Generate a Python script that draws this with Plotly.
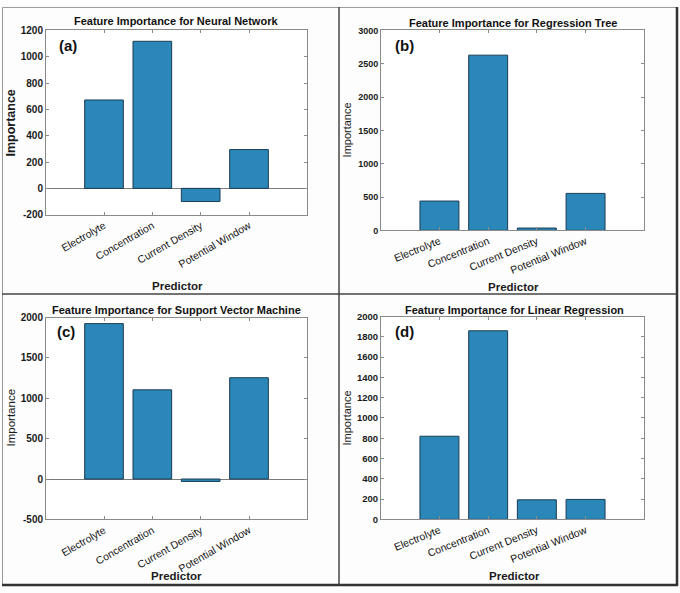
import plotly.graph_objects as go

W, H = 680, 593

predictors = ["Electrolyte", "Concentration", "Current Density", "Potential Window"]
nn_importance = [672, 1118, -100, 295]
tree_importance = [440, 2630, 35, 555]
svm_importance = [1925, 1105, -30, 1255]
lr_importance = [820, 1860, 193, 197]

titles = ["Feature Importance for Neural Network",
          "Feature Importance for Regression Tree",
          "Feature Importance for Support Vector Machine",
          "Feature Importance for Linear Regression"]
panel_tags = ["(a)", "(b)", "(c)", "(d)"]
nn_ticks = [-200, 0, 200, 400, 600, 800, 1000, 1200]
tree_ticks = [0, 500, 1000, 1500, 2000, 2500, 3000]
svm_ticks = [-500, 0, 500, 1000, 1500, 2000]
lr_ticks = [0, 200, 400, 600, 800, 1000, 1200, 1400, 1600, 1800, 2000]

series = [nn_importance, tree_importance, svm_importance, lr_importance]
y_ticks = [nn_ticks, tree_ticks, svm_ticks, lr_ticks]

# panel plot-area boxes in pixels: (left, right, top, bottom)
boxes = [(46, 307, 25, 213), (381, 644, 25, 229), (46, 307, 318, 524), (381, 644, 317, 524)]
tick_angles = [-30, -22, -30, -22]
ytick_sizes = [10, 9, 10, 9.5]
ylab_sizes = [12.5, 11, 11.5, 11]
ylab_bold = [True, False, False, False]
title_pos = [(176, 15), (513, 17), (176, 310), (514, 310)]
ylab_pos = [(11, 120), (347, 127), (11, 420), (347, 421)]
xlab_pos = [(177, 286), (513, 287), (176, 582), (514, 582)]
tag_pos = [(57, 40), (393, 40), (55, 332), (393, 332)]

FONT = "Liberation Sans, Arial, sans-serif"
BAR = "#2A87B8"

fig = go.Figure()
layout = dict(
    width=W, height=H, margin=dict(l=0, r=0, t=0, b=0),
    paper_bgcolor="#fdfdfd", plot_bgcolor="#ffffff",
    showlegend=False, font=dict(family=FONT, color="#222222"),
    bargap=0.2,
)
annotations = []
shapes = []

for i in range(4):
    sfx = "" if i == 0 else str(i + 1)
    xa, ya = "x" + sfx, "y" + sfx
    l, r, t, b = boxes[i]
    fig.add_trace(go.Bar(
        x=predictors, y=series[i], xaxis=xa, yaxis=ya, width=0.8,
        marker=dict(color=BAR, line=dict(color="#1b3d55", width=1)),
    ))
    layout["xaxis" + sfx] = dict(
        domain=[l / W, r / W], anchor=ya, type="category",
        range=[-1.2, 4.2], showline=True, linecolor="#8a8a8a", linewidth=1,
        mirror="ticks", ticks="inside", ticklen=3, tickcolor="#8a8a8a",
        tickangle=tick_angles[i], tickfont=dict(size=10.5, color="#111111"),
        showgrid=False, zeroline=False, fixedrange=True,
    )
    yt = y_ticks[i]
    layout["yaxis" + sfx] = dict(
        domain=[1 - b / H, 1 - t / H], anchor=xa,
        range=[yt[0], yt[-1]], tickmode="array", tickvals=yt,
        ticktext=["<b>%d</b>" % v for v in yt],
        showline=True, linecolor="#8a8a8a",
        linewidth=1, mirror="ticks", ticks="inside", ticklen=3, tickcolor="#8a8a8a",
        tickfont=dict(size=ytick_sizes[i], color="#1a1a1a"),
        showgrid=False, zeroline=True, zerolinecolor="#7a7a7a", zerolinewidth=1,
        fixedrange=True,
    )
    annotations.append(dict(text="<b>" + titles[i] + "</b>", x=title_pos[i][0] / W,
                            y=1 - title_pos[i][1] / H, xref="paper", yref="paper",
                            showarrow=False, xanchor="center", yanchor="middle",
                            font=dict(size=11, color="#111111")))
    ylab = "<b>Importance</b>" if ylab_bold[i] else "Importance"
    annotations.append(dict(text=ylab, x=ylab_pos[i][0] / W,
                            y=1 - ylab_pos[i][1] / H, xref="paper", yref="paper",
                            showarrow=False, textangle=-90, xanchor="center", yanchor="middle",
                            font=dict(size=ylab_sizes[i], color="#1a1a1a")))
    annotations.append(dict(text="<b>Predictor</b>", x=xlab_pos[i][0] / W,
                            y=1 - xlab_pos[i][1] / H, xref="paper", yref="paper",
                            showarrow=False, xanchor="center", yanchor="middle",
                            font=dict(size=11.5, color="#1a1a1a")))
    annotations.append(dict(text="<b>" + panel_tags[i] + "</b>", x=tag_pos[i][0] / W,
                            y=1 - tag_pos[i][1] / H, xref="paper", yref="paper",
                            showarrow=False, xanchor="left", yanchor="middle",
                            font=dict(size=15, color="#111111")))

# frame and dividers
def line(x0, y0, x1, y1, color, width):
    shapes.append(dict(type="line", xref="paper", yref="paper",
                       x0=x0 / W, y0=1 - y0 / H, x1=x1 / W, y1=1 - y1 / H,
                       line=dict(color=color, width=width)))

line(2.5, 1.5, 676, 1.5, "#9a9a9a", 1)
line(2.5, 1.5, 2.5, 591, "#9a9a9a", 1)
line(677, 1, 677, 592, "#333333", 2.5)
line(2, 591, 678, 591, "#333333", 2.5)
line(339, 1, 339, 591, "#444444", 1.5)
line(2, 294, 677, 294, "#444444", 1.5)

layout["annotations"] = annotations
layout["shapes"] = shapes
fig.update_layout(**layout)
fig.write_html("out.html", config={"displayModeBar": False},
               post_script="document.body.style.margin='0';")
